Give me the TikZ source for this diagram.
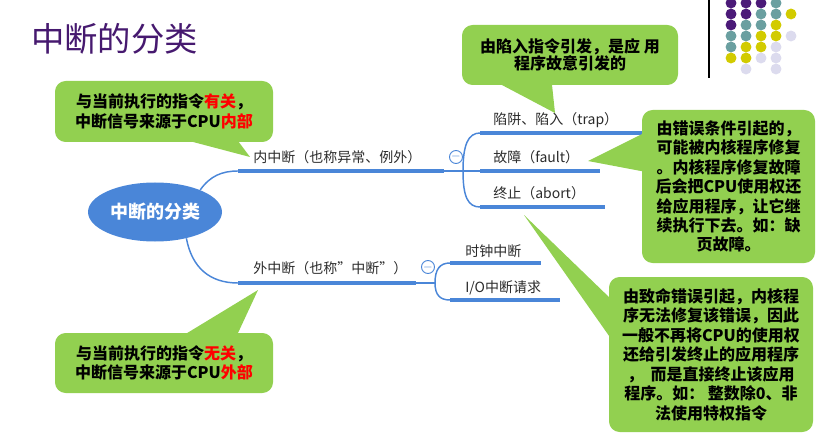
\documentclass[tikz,border=0pt]{standalone}
\usepackage{fontspec}
\setmainfont{Noto Sans CJK SC}
\usepackage{tikz}
\usetikzlibrary{calc, positioning, shapes.geometric}
\definecolor{mapblue}{HTML}{4A86D8}
\definecolor{callgreen}{HTML}{92D050}
\definecolor{titlepurple}{HTML}{46196F}
\definecolor{labelgray}{HTML}{2B2B2B}
\definecolor{dotP}{HTML}{4B1A78}
\definecolor{dotT}{HTML}{6A9FA0}
\definecolor{dotY}{HTML}{D2CB00}
\definecolor{dotL}{HTML}{DCDBEE}
\def\nodot{N}

\begin{document}
\begin{tikzpicture}[x=0.75pt, y=-0.75pt,
    mainline/.style={mapblue, line width=3pt},
    twig/.style={mapblue, line width=1.1pt},
    leaf/.style={anchor=west, inner sep=0pt, text=labelgray, font=\fontsize{10.5}{12}\selectfont},
    fold/.style={circle, draw=mapblue, line width=0.7pt, minimum size=9.75pt, inner sep=0pt, fill=white, text=mapblue, font=\fontsize{9}{9}\selectfont},
    callbox/.style={fill=callgreen, rounded corners=8pt, align=center, inner sep=0pt, font=\bfseries\fontsize{12}{14.6}\selectfont}]
    \useasboundingbox (0,0) rectangle (816,438);

    % title and corner decoration
    \node[anchor=west, inner sep=0pt, text=titlepurple, font=\fontsize{25}{25}\selectfont] (title) at (31,39) {中断的分类};
    \draw[line width=1.1pt] (709,0) -- (709,78);
    \foreach \yy/\row in {3/{P,P,P,T,N}, 14/{P,P,T,T,Y}, 25/{P,T,T,Y,N}, 36/{T,T,Y,Y,L}, 47/{T,Y,Y,L,N}, 58/{Y,Y,L,L,N}, 69/{N,L,N,L,N}}
        \foreach \c [count=\i from 0] in \row {
            \ifx\c\nodot\else \fill[fill=dot\c] (731+15*\i,\yy) circle[radius=4.1pt];\fi
        };

    % mind map
    \node[ellipse, fill=mapblue, minimum width=100.5pt, minimum height=44.25pt, inner sep=0pt, text=white, font=\bfseries\fontsize{13.5}{14}\selectfont] (root) at (155,212) {中断的分类};

    \coordinate (inS) at (238,171);
    \coordinate (inE) at (444,171);
    \coordinate (inJ) at (463,171);
    \coordinate (outS) at (238,283);
    \coordinate (outE) at (416,283);
    \coordinate (outJ) at (435,283);

    \draw[twig] (root.26) .. controls (210,176) and (222,171) .. (inS);
    \draw[mainline] (inS) -- (inE);
    \draw[twig] (inE) -- (480,171);
    \draw[twig] (inJ) .. controls (463,145) and (468,133) .. (480,133);
    \draw[twig] (inJ) .. controls (463,197) and (468,207) .. (480,207);
    \draw[mainline] (480,133) -- (642,133);
    \draw[mainline] (480,171) -- (600,171);
    \draw[mainline] (480,207) -- (605,207);
    \node[fold] (inFold) at (456,157) {$-$};

    \draw[twig] (root.-40) .. controls (192,268) and (210,283) .. (outS);
    \draw[mainline] (outS) -- (outE);
    \draw[twig] (outE) -- (outJ);
    \draw[twig] (outJ) .. controls (435,269) and (440,263) .. (450,263);
    \draw[twig] (outJ) .. controls (435,295) and (440,300) .. (450,300);
    \draw[mainline] (450,263) -- (541,263);
    \draw[mainline] (450,300) -- (560,300);
    \node[fold] (outFold) at (428,267) {$-$};

    \node[leaf] (inner) at (253,157) {内中断（也称异常、例外）};
    \node[leaf] (outer) at (253,268) {外中断（也称"中断"）};
    \node[leaf] (trap) at (493,120) {陷阱、陷入（trap）};
    \node[leaf] (fault) at (493,157) {故障（fault）};
    \node[leaf] (abort) at (493,193) {终止（abort）};
    \node[leaf] (clock) at (465,251) {时钟中断};
    \node[leaf] (io) at (465,288) {I/O中断请求};

    % callouts
    \node[callbox, minimum width=163.5pt, minimum height=45.75pt] (cin) at (164,111.5)
        {与当前执行的指令\textcolor{red}{有关}，\\中断信号来源于CPU\textcolor{red}{内部}};
    \coordinate (cinTip) at (250,157);
    \fill[callgreen] ($(cin.south west)+(128,-3)$) -- (cinTip) -- ($(cin.south west)+(182,-3)$) -- cycle;

    \node[callbox, minimum width=162pt, minimum height=45pt, font=\bfseries\fontsize{12}{13}\selectfont] (ctrap) at (570,55)
        {由陷入指令引发，是应 用\\程序故意引发的};
    \coordinate (ctrapTip) at (555,113);
    \fill[callgreen] ($(ctrap.south west)+(35,-3)$) -- (ctrapTip) -- ($(ctrap.south west)+(90,-3)$) -- cycle;

    \node[callbox, minimum width=129.75pt, minimum height=114.75pt] (cfault) at (728.5,186.5)
        {由错误条件引起的，\\可能被内核程序修复\\。内核程序修复故障\\后会把CPU使用权还\\给应用程序，让它继\\续执行下去。如：缺\\页故障。};
    \coordinate (cfaultTip) at (588,161);
    \fill[callgreen] ($(cfault.north west)+(3,23)$) -- (cfaultTip) -- ($(cfault.north west)+(3,62)$) -- cycle;

    \node[callbox, minimum width=153pt, minimum height=116.25pt] (cabort) at (711,354.5)
        {由致命错误引起，内核程\\序无法修复该错误，因此\\一般不再将CPU的使用权\\还给引发终止的应用程序\\，\ \ 而是直接终止该应用\\程序。如：\ 整数除0、非\\法使用特权指令};
    \coordinate (cabortTip) at (524,215);
    \fill[callgreen] ($(cabort.north west)+(3,23)$) -- (cabortTip) -- ($(cabort.north west)+(3,63)$) -- cycle;

    \node[callbox, minimum width=163.5pt, minimum height=45pt] (cout) at (164,363)
        {与当前执行的指令\textcolor{red}{无关}，\\中断信号来源于CPU\textcolor{red}{外部}};
    \coordinate (coutTip) at (258,290);
    \fill[callgreen] ($(cout.north west)+(128,3)$) -- (coutTip) -- ($(cout.north west)+(182,3)$) -- cycle;
\end{tikzpicture}
\end{document}
